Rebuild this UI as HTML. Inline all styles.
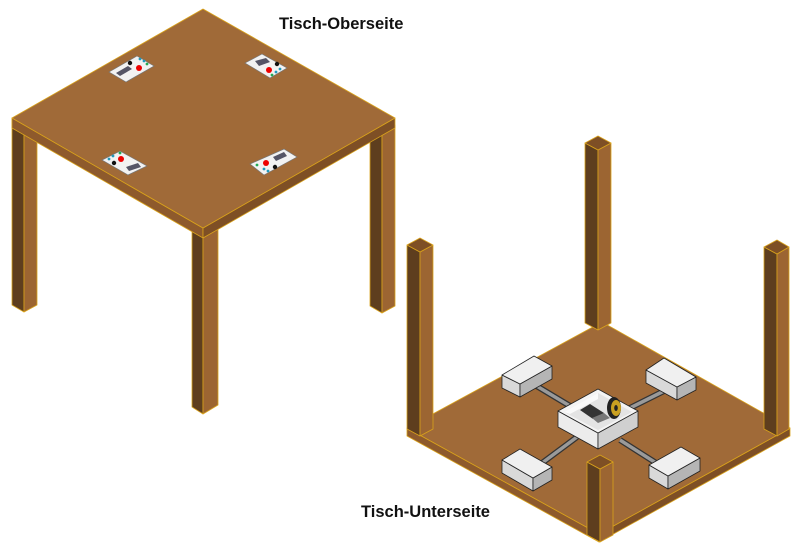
<!DOCTYPE html>
<html><head><meta charset="utf-8"><style>
html,body{margin:0;padding:0;background:#fff;width:800px;height:549px;overflow:hidden}
svg{display:block}
text{font-family:"Liberation Sans",Arial,sans-serif;font-weight:bold;font-size:16.5px;fill:#111}
</style></head><body>
<svg width="800" height="549" viewBox="0 0 800 549" xmlns="http://www.w3.org/2000/svg">
<g stroke="#d9a21b" stroke-width="0.8" stroke-linejoin="round">
<polygon points="12,118 24,125 24,312 12,305" fill="#5e3e1e"/>
<polygon points="24,125 37,118 37,305 24,312" fill="#9c6532"/>
<polygon points="370,125 382,131 382,313 370,306" fill="#5e3e1e"/>
<polygon points="382,131 395,125 395,306 382,313" fill="#9c6532"/>
<polygon points="192,230 203,236 203,414 192,407" fill="#5e3e1e"/>
<polygon points="203,236 218,228 218,405 203,414" fill="#9c6532"/>
<polygon points="12,118 203,228 203,238 12,128" fill="#8e5a2c"/>
<polygon points="203,228 395,118 395,128 203,238" fill="#7e4f25"/>
<polygon points="203,9 395,118 203,228 12,118" fill="#a06a38"/>
</g>
<g stroke="#777" stroke-width="0.7">
<polygon points="109,72 137,56 154,66 126,82" fill="#f2f2f2"/>
<polygon points="245,63 262,54 287,68 270,78" fill="#f2f2f2"/>
<polygon points="102,160 120,151 147,166 128,175" fill="#f2f2f2"/>
<polygon points="250,164 284,149 297,157 264,175" fill="#f2f2f2"/>
</g>
<g>
<polygon points="116,73 128,66 132,69 120,76" fill="#556"/>
<circle cx="139" cy="68" r="3" fill="#e00"/><circle cx="130" cy="63" r="2.2" fill="#111"/>
<circle cx="140" cy="59" r="1.4" fill="#29b"/><circle cx="144" cy="61" r="1.4" fill="#29b"/><circle cx="147" cy="64" r="1.4" fill="#2a5"/>
<polygon points="255,61 266,58 270,62 259,66" fill="#556"/>
<circle cx="269" cy="70" r="3" fill="#e00"/><circle cx="277" cy="64" r="2.2" fill="#111"/>
<circle cx="276" cy="72" r="1.4" fill="#29b"/><circle cx="280" cy="69" r="1.4" fill="#29b"/><circle cx="272" cy="75" r="1.4" fill="#2a5"/>
<polygon points="126,167 138,163 141,167 129,171" fill="#556"/>
<circle cx="121" cy="159" r="3" fill="#e00"/><circle cx="114" cy="163" r="2.2" fill="#111"/>
<circle cx="109" cy="159" r="1.4" fill="#29b"/><circle cx="113" cy="156" r="1.4" fill="#29b"/><circle cx="120" cy="153" r="1.4" fill="#2a5"/>
<polygon points="273,157 284,152 287,156 276,161" fill="#556"/>
<circle cx="266" cy="163" r="3" fill="#e00"/><circle cx="275" cy="167" r="2.2" fill="#111"/>
<circle cx="264" cy="169" r="1.4" fill="#29b"/><circle cx="268" cy="171" r="1.4" fill="#29b"/><circle cx="257" cy="165" r="1.4" fill="#2a5"/>
</g>
<text x="279" y="29">Tisch-Oberseite</text>

<g stroke="#d9a21b" stroke-width="0.8" stroke-linejoin="round">
<polygon points="407,428 599,534 599,542 407,436" fill="#8e5a2c"/>
<polygon points="599,534 790,428 790,436 599,542" fill="#7e4f25"/>
<polygon points="602,322 790,428 599,534 407,428" fill="#a06a38"/>
<polygon points="585,143 598,150 598,330 585,323" fill="#5e3e1e"/>
<polygon points="598,150 611,143 611,323 598,330" fill="#9c6532"/>
<polygon points="585,143 598,136 611,143 598,150" fill="#7e4f25"/>
<polygon points="407,245 420,252 420,436 407,429" fill="#5e3e1e"/>
<polygon points="420,252 433,245 433,429 420,436" fill="#9c6532"/>
<polygon points="407,245 420,238 433,245 420,252" fill="#7e4f25"/>
<polygon points="764,247 777,254 777,436 764,429" fill="#5e3e1e"/>
<polygon points="777,254 789,247 789,429 777,436" fill="#9c6532"/>
<polygon points="764,247 777,240 789,247 777,254" fill="#7e4f25"/>
</g>
<g stroke="#333" stroke-width="6">
<line x1="535" y1="385" x2="570" y2="406"/><line x1="680" y1="383" x2="628" y2="409"/>
<line x1="538" y1="466" x2="577" y2="437"/><line x1="664" y1="468" x2="620" y2="440"/>
</g>
<g stroke="#9a9a9a" stroke-width="3.5">
<line x1="535" y1="385" x2="570" y2="406"/><line x1="680" y1="383" x2="628" y2="409"/>
<line x1="538" y1="466" x2="577" y2="437"/><line x1="664" y1="468" x2="620" y2="440"/>
</g>
<g stroke="#222" stroke-width="0.8" stroke-linejoin="round">
<polygon points="502,375 520,384 520,397 502,388" fill="#d9d9d9"/><polygon points="520,384 552,366 552,379 520,397" fill="#b5b5b5"/><polygon points="502,375 534,356 552,366 520,384" fill="#f0f0f0"/>
<polygon points="646,370 677,387 677,400 646,383" fill="#d9d9d9"/><polygon points="677,387 696,377 696,390 677,400" fill="#b5b5b5"/><polygon points="646,370 664,358 696,377 677,387" fill="#f0f0f0"/>
<polygon points="502,460 533,478 533,491 502,473" fill="#d9d9d9"/><polygon points="533,478 552,467 552,480 533,491" fill="#b5b5b5"/><polygon points="502,460 520,449 552,467 533,478" fill="#f0f0f0"/>
<polygon points="649,465 668,476 668,489 649,478" fill="#d9d9d9"/><polygon points="668,476 700,458 700,471 668,489" fill="#b5b5b5"/><polygon points="649,465 681,447 700,458 668,476" fill="#f0f0f0"/>
<polygon points="558,411 598,433 598,449 558,427" fill="#ececec"/>
<polygon points="598,433 638,411 638,427 598,449" fill="#d0d0d0"/>
<polygon points="558,411 598,389 638,411 598,433" fill="#f4f4f4"/>
</g>
<polygon points="564,412 598,393 632,412 598,430" fill="#e4e4e4"/>
<polygon points="564,412 598,393 598,399 570,414" fill="#fafafa"/>
<polygon points="580,410 590,404 604,413 593,419" fill="#333"/>
<polygon points="592,418 604,413 610,418 598,423" fill="#777"/>
<ellipse cx="614" cy="408" rx="7" ry="11" fill="#222"/>
<ellipse cx="616" cy="408" rx="5" ry="8" fill="#c9a021"/>
<ellipse cx="616" cy="408" rx="1.8" ry="3" fill="#222"/>
<g stroke="#d9a21b" stroke-width="0.8" stroke-linejoin="round">
<polygon points="587,462 600,469 600,542 587,535" fill="#5e3e1e"/>
<polygon points="600,469 613,462 613,535 600,542" fill="#9c6532"/>
<polygon points="587,462 600,455 613,462 600,469" fill="#7e4f25"/>
</g>
<text x="361" y="517">Tisch-Unterseite</text>
</svg>
</body></html>
